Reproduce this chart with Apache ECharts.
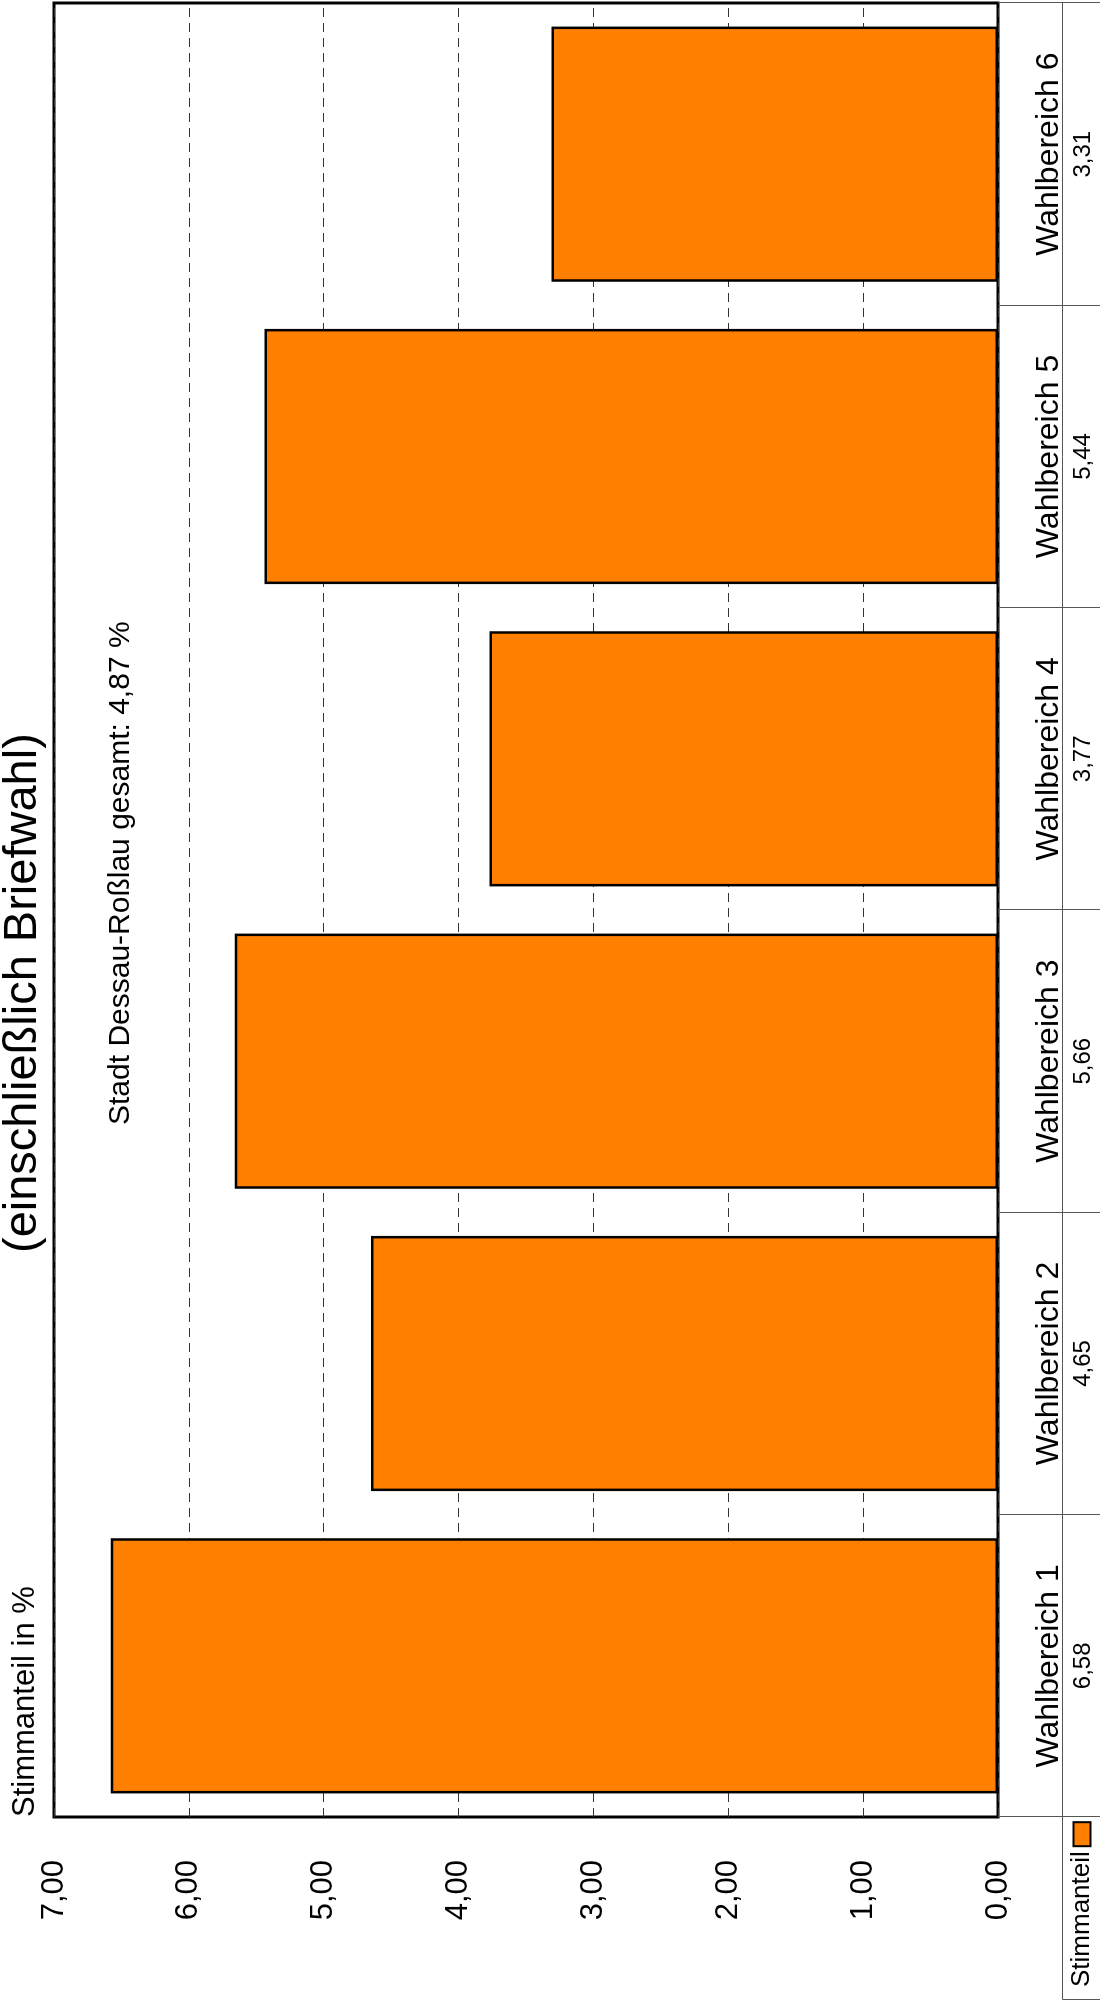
<!DOCTYPE html>
<html>
<head>
<meta charset="utf-8">
<script src="https://cdn.jsdelivr.net/npm/echarts@6/dist/echarts.min.js"></script>
<style>
html,body{margin:0;padding:0;background:#fff;overflow:hidden;width:1100px;height:2002px;}
#chart{position:absolute;left:0;top:0;width:2002px;height:1100px;transform-origin:0 0;transform:translateY(2002px) rotate(-90deg);background:#fff;}
</style>
</head>
<body>
<div id="chart"></div>
<script>
// ---- data ----
const categories = ['Wahlbereich 1', 'Wahlbereich 2', 'Wahlbereich 3', 'Wahlbereich 4', 'Wahlbereich 5', 'Wahlbereich 6'];
const shares = [6.58, 4.65, 5.66, 3.77, 5.44, 3.31];
const seriesName = 'Stimmanteil';
const axisName = 'Stimmanteil in %';
const titleText = '(einschließlich Briefwahl)';
const cityLabel = 'Stadt Dessau-Roßlau gesamt: ';
const cityTotal = 4.87;
const valueMin = 0, valueMax = 7, valueStep = 1;

const fmt = v => Number(v).toFixed(2).replace('.', ',');
const FONT = 'Liberation Sans, Arial, Helvetica, sans-serif';

const chart = echarts.init(document.getElementById('chart'), null, {renderer: 'canvas'});
chart.setOption({
  animation: false,
  backgroundColor: '#fff',
  textStyle: {fontFamily: FONT, color: '#000'},
  title: [
    {text: titleText, left: 749, top: 0, padding: 0,
     textStyle: {fontSize: 47, fontWeight: 'normal', color: '#000', fontFamily: FONT}},
    {text: cityLabel + fmt(cityTotal) + ' %', left: 877, top: 106, padding: 0,
     textStyle: {fontSize: 30, fontWeight: 'normal', color: '#000', fontFamily: FONT}}
  ],
  legend: {
    data: [seriesName], left: 15, top: 1069, padding: 0, align: 'right',
    itemWidth: 24, itemHeight: 17, icon: 'rect',
    textStyle: {fontSize: 26, color: '#000', fontFamily: FONT}
  },
  grid: [{left: 185, right: 3, top: 54, bottom: 102, show: true, borderColor: '#000', borderWidth: 3, backgroundColor: 'transparent'}],
  xAxis: [
    {type: 'category', data: categories, gridIndex: 0, position: 'bottom',
     axisLine: {show: false},
     axisTick: {show: true, interval: 0, length: 102, lineStyle: {color: '#555', width: 1}},
     axisLabel: {interval: 0, margin: 51, verticalAlign: 'middle', fontSize: 32, color: '#000', fontFamily: FONT},
     splitLine: {show: false}},
    {type: 'category', data: categories, gridIndex: 0, position: 'bottom', offset: 64,
     axisLine: {show: true, lineStyle: {color: '#555', width: 1}},
     axisTick: {show: false},
     axisLabel: {interval: 0, margin: 21, verticalAlign: 'middle', fontSize: 24, color: '#000', fontFamily: FONT,
                 formatter: (v, i) => fmt(shares[i])},
     splitLine: {show: false}}
  ],
  yAxis: [{
    type: 'value', min: valueMin, max: valueMax, interval: valueStep,
    name: axisName, nameLocation: 'end', nameGap: 29,
    nameTextStyle: {align: 'left', verticalAlign: 'middle', fontSize: 31, color: '#000', fontFamily: FONT, padding: 0},
    axisLine: {show: false}, axisTick: {show: false},
    axisLabel: {margin: 43, fontSize: 31, color: '#000', fontFamily: FONT, formatter: v => fmt(v)},
    splitLine: {show: true, lineStyle: {type: [9, 6], color: '#333', width: 1}}
  }],
  graphic: [
    {type: 'rect', shape: {x: 2.5, y: 1062.5, width: 183, height: 40}, style: {fill: 'none', stroke: '#555', lineWidth: 1}, silent: true}
  ],
  series: [{
    type: 'bar', name: seriesName, data: shares, xAxisIndex: 0, yAxisIndex: 0,
    barCategoryGap: '15.6%',
    itemStyle: {color: '#FF8000', borderColor: '#000', borderWidth: 2.5},
    emphasis: {disabled: true}
  }]
});
</script>
</body>
</html>
